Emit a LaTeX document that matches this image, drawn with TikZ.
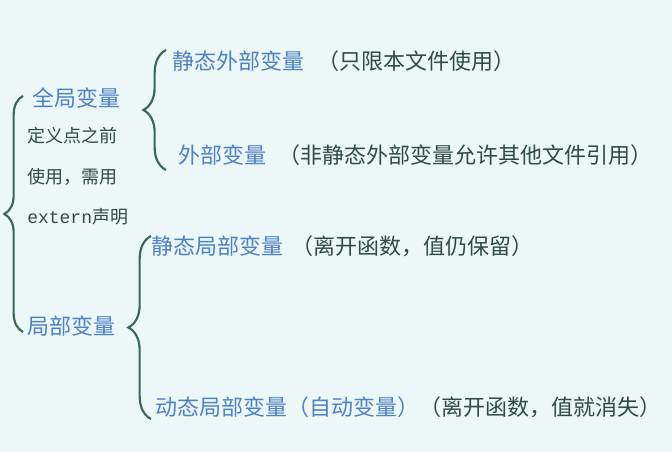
\documentclass[tikz,border=0pt]{standalone}
\usepackage{fontspec}
\setmainfont{Noto Sans CJK SC}
\newfontfamily\monofont{Liberation Mono}
\usetikzlibrary{decorations.pathreplacing}
\definecolor{termblue}{RGB}{78,128,196}
\definecolor{notegray}{RGB}{48,74,70}
\definecolor{bracegreen}{RGB}{62,102,90}
\definecolor{slidebg}{RGB}{236,248,248}
\tikzset{
  term/.style={anchor=west, inner sep=0pt, text=termblue, font=\fontsize{16.5}{18}\selectfont},
  note/.style={anchor=west, inner sep=0pt, text=notegray, font=\fontsize{13.5}{15}\selectfont},
  curly/.style={draw=bracegreen, line width=1.6pt, decorate, decoration={brace, amplitude=#1}},
}
\begin{document}
\begin{tikzpicture}[x=0.75pt, y=-0.75pt]
  \fill[slidebg] (0,0) rectangle (672,452);
  \useasboundingbox (0,0) rectangle (672,452);
  % left column
  \node[term] (glob) at (32,98) {全局变量};
  \node[note] (n1) at (27,136) {定义点之前};
  \node[note] (n2) at (27,177) {使用，需用};
  \node[note] (n3) at (27,217) {{\monofont extern}声明};
  \node[term] (loc) at (27,326) {局部变量};
  % global branch
  \node[term] (sext) at (172,61) {静态外部变量\hspace{10pt}\textcolor{notegray}{（只限本文件使用）}};
  \node[term] (ext) at (178,155) {外部变量\hspace{9pt}\textcolor{notegray}{（非静态外部变量允许其他文件引用）}};
  % local branch
  \node[term] (sloc) at (151,246) {静态局部变量\hspace{6pt}\textcolor{notegray}{（离开函数，值仍保留）}};
  \node[term] (aloc) at (155,407) {动态局部变量（自动变量）\textcolor{notegray}{（离开函数，值就消失）}};
  % braces
  \coordinate (rtop) at (23,96);
  \coordinate (rbot) at (23,332);
  \coordinate (gtop) at (166,50);
  \coordinate (gbot) at (166,170);
  \coordinate (ltop) at (151,236);
  \coordinate (lbot) at (151,419);
  \draw[curly=14pt] (rbot) -- (rtop);
  \draw[curly=17pt] (gbot) -- (gtop);
  \draw[curly=17pt] (lbot) -- (ltop);
\end{tikzpicture}
\end{document}
